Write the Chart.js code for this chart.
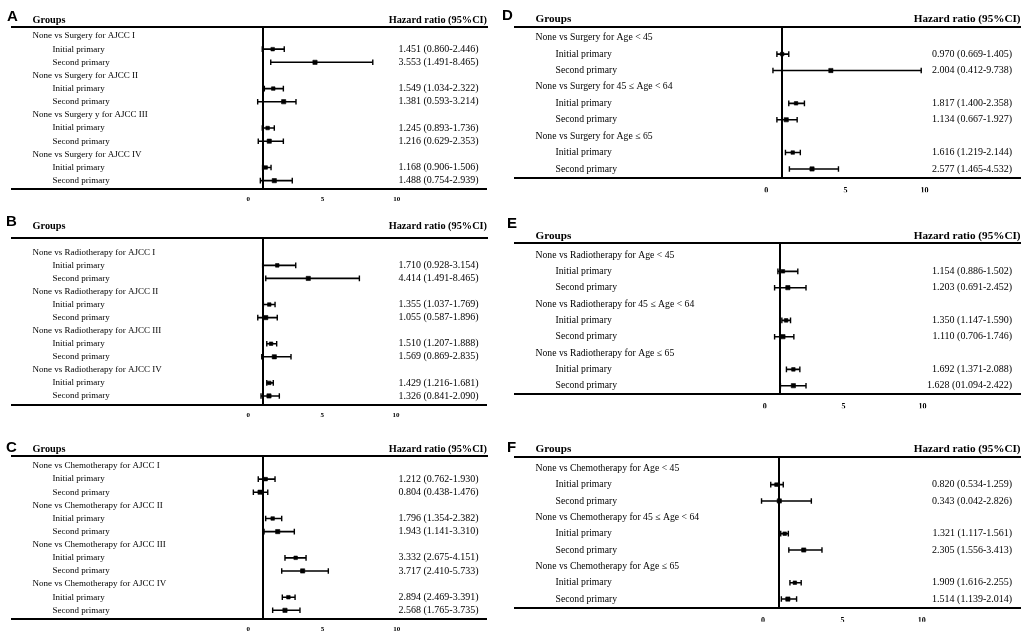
<!DOCTYPE html>
<html>
<head>
<meta charset="utf-8">
<script src="https://cdn.jsdelivr.net/npm/chart.js@4.4.0/dist/chart.umd.min.js"></script>
<style>
  body { margin: 0; background: #fff; }
  #wrap { position: relative; width: 1026px; height: 634px; background: #fff; overflow: hidden; }
  #wrap canvas { position: absolute; }
</style>
</head>
<body>
<div id="wrap"></div>
<script>
// values: hr / low / high are where the marks sit on the axis,
// text is the printed column on the right (two rows per group: initial, second)
const subLabels = ["Initial primary", "Second primary"];
const tickValues = [0, 1, 5, 10];

const groupsA = ["None vs Surgery for AJCC I", "None vs Surgery for AJCC II", "None vs Surgery y for AJCC III", "None vs Surgery for AJCC IV"];
const hrA = [1.64, 4.49, 1.68, 2.38, 1.30, 1.41, 1.17, 1.75];
const lowA = [0.94, 1.51, 1.08, 0.63, 0.94, 0.67, 0.96, 0.81];
const highA = [2.42, 8.38, 2.36, 3.21, 1.75, 2.36, 1.53, 2.96];
const textA = ["1.451 (0.860-2.446)", "3.553 (1.491-8.465)", "1.549 (1.034-2.322)", "1.381 (0.593-3.214)",
  "1.245 (0.893-1.736)", "1.216 (0.629-2.353)", "1.168 (0.906-1.506)", "1.488 (0.754-2.939)"];

const groupsB = ["None vs Radiotherapy for AJCC I", "None vs Radiotherapy for AJCC II", "None vs Radiotherapy for AJCC III", "None vs Radiotherapy for AJCC IV"];
const hrB = [1.96, 4.06, 1.42, 1.18, 1.54, 1.76, 1.42, 1.40];
const lowB = [0.97, 1.18, 1.02, 0.64, 1.25, 0.91, 1.25, 0.86];
const highB = [3.21, 7.52, 1.81, 1.96, 1.92, 2.89, 1.69, 2.10];
const textB = ["1.710 (0.928-3.154)", "4.414 (1.491-8.465)", "1.355 (1.037-1.769)", "1.055 (0.587-1.896)",
  "1.510 (1.207-1.888)", "1.569 (0.869-2.835)", "1.429 (1.216-1.681)", "1.326 (0.841-2.090)"];

const groupsC = ["None vs Chemotherapy for AJCC I", "None vs Chemotherapy for AJCC II", "None vs Chemotherapy for AJCC III", "None vs Chemotherapy for AJCC IV"];
const hrC = [1.17, 0.79, 1.64, 1.98, 3.19, 3.66, 2.70, 2.47];
const lowC = [0.67, 0.34, 1.17, 1.06, 2.47, 2.25, 2.29, 1.64];
const highC = [1.80, 1.31, 2.25, 3.10, 3.89, 5.39, 3.15, 3.48];
const textC = ["1.212 (0.762-1.930)", "0.804 (0.438-1.476)", "1.796 (1.354-2.382)", "1.943 (1.141-3.310)",
  "3.332 (2.675-4.151)", "3.717 (2.410-5.733)", "2.894 (2.469-3.391)", "2.568 (1.765-3.735)"];

const groupsD = ["None vs Surgery for Age < 45", "None vs Surgery for 45 \u2264 Age < 64", "None vs Surgery for Age \u2264 65"];
const hrD = [1.00, 4.08, 1.88, 1.26, 1.67, 2.89];
const lowD = [0.67, 0.42, 1.42, 0.67, 1.21, 1.46];
const highD = [1.42, 9.79, 2.41, 1.95, 2.15, 4.56];
const textD = ["0.970 (0.669-1.405)", "2.004 (0.412-9.738)", "1.817 (1.400-2.358)", "1.134 (0.667-1.927)",
  "1.616 (1.219-2.144)", "2.577 (1.465-4.532)"];

const groupsE = ["None vs Radiotherapy for Age < 45", "None vs Radiotherapy for 45 \u2264 Age < 64", "None vs Radiotherapy for Age \u2264 65"];
const hrE = [1.16, 1.47, 1.36, 1.16, 1.82, 1.82];
const lowE = [0.84, 0.63, 1.09, 0.63, 1.38, 1.00];
const highE = [2.10, 2.62, 1.64, 1.85, 2.23, 2.62];
const textE = ["1.154 (0.886-1.502)", "1.203 (0.691-2.452)", "1.350 (1.147-1.590)", "1.110 (0.706-1.746)",
  "1.692 (1.371-2.088)", "1.628 (01.094-2.422)"];

const groupsF = ["None vs Chemotherapy for Age < 45", "None vs Chemotherapy for 45 \u2264 Age < 64", "None vs Chemotherapy for Age \u2264 65"];
const hrF = [0.84, 1.02, 1.36, 2.56, 2.00, 1.56];
const lowF = [0.48, -0.10, 1.11, 1.62, 1.69, 1.15];
const highF = [1.27, 3.04, 1.59, 3.71, 2.40, 2.11];
const textF = ["0.820 (0.534-1.259)", "0.343 (0.042-2.826)", "1.321 (1.117-1.561)", "2.305 (1.556-3.413)",
  "1.909 (1.616-2.255)", "1.514 (1.139-2.014)"];

// layout of each panel on the page (box = canvas, area = plot frame)
const panels = [
  { letter: "A", groups: groupsA, hr: hrA, low: lowA, high: highA, text: textA,
    box: [0, 0, 513, 210], area: [12, 487, 27, 189.3], xRange: [-15.91, 16.07], rowRange: [-0.684, 11.658],
    letterPos: [7, 21], headY: 20, large: false },
  { letter: "B", groups: groupsB, hr: hrB, low: lowB, high: highB, text: textB,
    box: [0, 205, 513, 215], area: [12, 487, 238.3, 405], xRange: [-16.0, 16.16], rowRange: [-1.072, 11.692],
    letterPos: [6, 226], headY: 226.7, large: false },
  { letter: "C", groups: groupsC, hr: hrC, low: lowC, high: highC, text: textC,
    box: [0, 415, 513, 219], area: [12, 487, 455.7, 619], xRange: [-15.92, 16.08], rowRange: [-0.785, 11.662],
    letterPos: [6, 452], headY: 449.3, large: false },
  { letter: "D", groups: groupsD, hr: hrD, low: lowD, high: highD, text: textD,
    box: [495, 0, 531, 205], area: [515, 1024, 26.7, 178.3], xRange: [-15.88, 16.07], rowRange: [-0.670, 8.568],
    letterPos: [502, 20], headY: 19.3, large: true },
  { letter: "E", groups: groupsE, hr: hrE, low: lowE, high: highE, text: textE,
    box: [495, 205, 531, 210], area: [515, 1024, 242.7, 394.3], xRange: [-15.81, 16.21], rowRange: [-0.753, 8.525],
    letterPos: [507, 228], headY: 236, large: true },
  { letter: "F", groups: groupsF, hr: hrF, low: lowF, high: highF, text: textF,
    box: [495, 415, 531, 219], area: [515, 1024, 457.3, 607.7], xRange: [-15.64, 16.23], rowRange: [-0.673, 8.531],
    letterPos: [507, 452], headY: 449.3, large: true }
];

const serif = '"Liberation Serif", "Times New Roman", serif';
const axisH = 14;

function buildRows(p) {
  const rows = [];
  p.groups.forEach((g, gi) => {
    rows.push({ label: g, group: true });
    subLabels.forEach((s, si) => rows.push({ label: s, group: false, k: gi * 2 + si }));
  });
  return rows;
}

function textPlugin(p, rows) {
  return {
    id: "forestText" + p.letter,
    afterDraw(chart) {
      const ctx = chart.ctx;
      const area = chart.chartArea;
      const yScale = chart.scales.y;
      const ox = p.box[0], oy = p.box[1];
      ctx.save();
      ctx.fillStyle = "#000";

      ctx.font = 'bold 15px "Liberation Sans", Arial, sans-serif';
      ctx.textAlign = "left";
      ctx.textBaseline = "alphabetic";
      ctx.fillText(p.letter, p.letterPos[0] - ox, p.letterPos[1] - oy);

      ctx.font = "bold " + (p.large ? 11.2 : 10.3) + "px " + serif;
      ctx.textBaseline = "middle";
      ctx.fillText("Groups", area.left + 20.5, p.headY - oy);
      ctx.textAlign = "right";
      ctx.fillText("Hazard ratio (95%CI)", area.right, p.headY - oy);

      const labelFont = (p.large ? 9.7 : 9) + "px " + serif;
      rows.forEach((row, r) => {
        const y = yScale.getPixelForValue(r);
        ctx.font = labelFont;
        ctx.textAlign = "left";
        ctx.fillText(row.label, area.left + (row.group ? 20.5 : 40.5), y);
        if (!row.group) {
          ctx.font = "10px " + serif;
          ctx.textAlign = "right";
          ctx.fillText(p.text[row.k], area.right - 8.5, y);
        }
      });
      ctx.restore();
    }
  };
}

function drawPanel(p) {
  const wrap = document.getElementById("wrap");
  const canvas = document.createElement("canvas");
  canvas.width = p.box[2];
  canvas.height = p.box[3];
  canvas.style.left = p.box[0] + "px";
  canvas.style.top = p.box[1] + "px";
  wrap.appendChild(canvas);

  const rows = buildRows(p);
  const ciData = [];
  const hrData = [];
  const hrRadius = [];
  rows.forEach((row, r) => {
    if (row.group) return;
    ciData.push({ x: p.low[row.k], y: r }, { x: p.high[row.k], y: r }, { x: null, y: null });
    hrData.push({ x: p.hr[row.k], y: r });
    hrRadius.push(row.k % 2 === 0 ? 2.5 : 3);
  });

  const [l, r, t, b] = p.area;
  const tickFont = { family: serif, size: p.large ? 8 : 7, weight: "bold" };

  new Chart(canvas, {
    type: "scatter",
    data: {
      datasets: [
        {
          data: ciData,
          showLine: true,
          spanGaps: false,
          borderColor: "#000",
          borderWidth: 1.6,
          pointStyle: "line",
          pointRotation: 90,
          pointRadius: 2.8,
          pointBorderWidth: 1.4,
          pointBorderColor: "#000"
        },
        {
          data: hrData,
          pointStyle: "rect",
          pointRadius: hrRadius,
          pointBackgroundColor: "#000",
          pointBorderColor: "#000",
          pointBorderWidth: 0.6
        }
      ]
    },
    options: {
      responsive: false,
      animation: false,
      events: [],
      layout: {
        padding: {
          left: l - p.box[0],
          right: p.box[0] + p.box[2] - r,
          top: t - p.box[1],
          bottom: p.box[1] + p.box[3] - b - axisH
        }
      },
      plugins: {
        legend: { display: false },
        tooltip: { enabled: false }
      },
      scales: {
        x: {
          type: "linear",
          position: "bottom",
          min: p.xRange[0],
          max: p.xRange[1],
          afterBuildTicks: function (scale) {
            scale.ticks = tickValues.map(v => ({ value: v }));
          },
          afterFit: function (scale) {
            scale.height = axisH;
          },
          ticks: {
            padding: p.large ? 8 : 6,
            color: "#000",
            font: tickFont,
            maxRotation: 0,
            callback: function (value) {
              return value === 1 ? "" : value;
            }
          },
          grid: {
            drawTicks: false,
            color: ctx => (ctx.tick && ctx.tick.value === 1 ? "#000" : "rgba(0,0,0,0)"),
            lineWidth: ctx => (ctx.tick && ctx.tick.value === 1 ? 2 : 0)
          },
          border: { display: true, color: "#000", width: 2 }
        },
        x2: {
          type: "linear",
          position: "top",
          min: p.xRange[0],
          max: p.xRange[1],
          afterFit: function (scale) {
            scale.height = 0;
          },
          ticks: { display: false },
          grid: { display: false, drawTicks: false },
          border: { display: true, color: "#000", width: 2 }
        },
        y: {
          type: "linear",
          reverse: true,
          min: p.rowRange[0],
          max: p.rowRange[1],
          display: false
        }
      }
    },
    plugins: [textPlugin(p, rows)]
  });
}

window.onload = function () {
  panels.forEach(drawPanel);
};
</script>
</body>
</html>
